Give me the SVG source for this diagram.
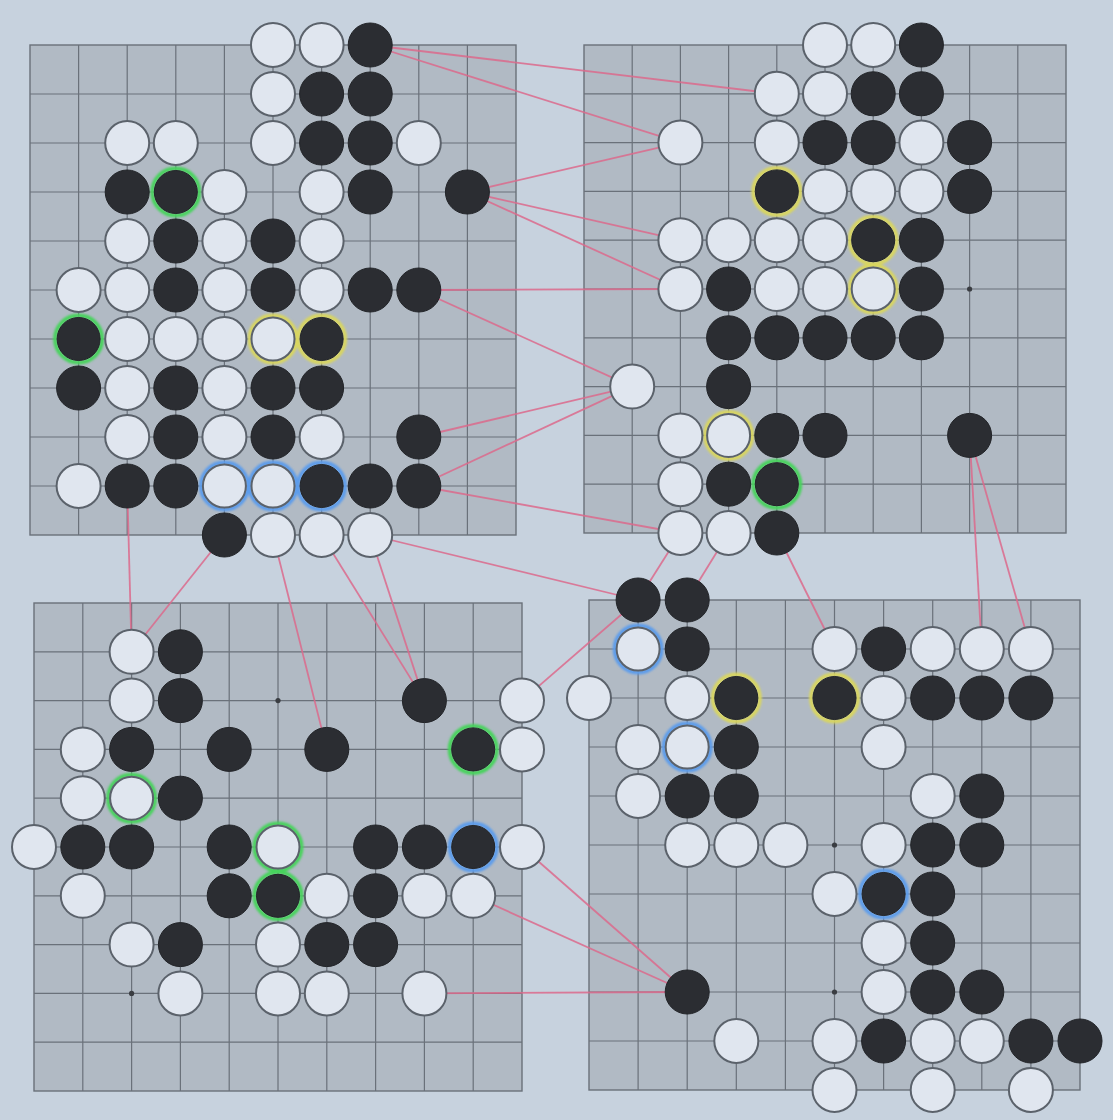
<svg xmlns="http://www.w3.org/2000/svg" width="1113" height="1120" viewBox="0 0 1113 1120">
<defs>
<style>
.bd{fill:#b1bac4;stroke:#6a717a;stroke-width:1.4}
.gl{fill:none;stroke:#6a717a;stroke-width:1.2}
.st{fill:#3a3d42}
.w{fill:#e0e6ef;stroke:#5b626b;stroke-width:2}
.b{fill:#2b2d32;stroke:#222428;stroke-width:1}
.rg{fill:none;stroke:#46d35c;stroke-width:4}
.ry{fill:none;stroke:#d9d65e;stroke-width:4}
.rb{fill:none;stroke:#5c9cec;stroke-width:4}
.cn{fill:none;stroke:#dc6a8c;stroke-width:1.8;stroke-opacity:0.85}
</style>
<filter id="glow" x="-30%" y="-30%" width="160%" height="160%"><feGaussianBlur stdDeviation="0.9"/></filter>
</defs>
<rect width="1113" height="1120" fill="#c7d2de"/>

<g id="board-tl">
<rect class="bd" x="30" y="45" width="486" height="490"/>
<path class="gl" d="M78.6 45V535M127.2 45V535M175.8 45V535M224.4 45V535M273 45V535M321.6 45V535M370.2 45V535M418.8 45V535M467.4 45V535M30 94H516M30 143H516M30 192H516M30 241H516M30 290H516M30 339H516M30 388H516M30 437H516M30 486H516"/>
</g>
<g id="board-tr">
<rect class="bd" x="584" y="45" width="482" height="488"/>
<path class="gl" d="M632.2 45V533M680.4 45V533M728.6 45V533M776.8 45V533M825 45V533M873.2 45V533M921.4 45V533M969.6 45V533M1017.8 45V533M584 93.8H1066M584 142.6H1066M584 191.4H1066M584 240.2H1066M584 289H1066M584 337.8H1066M584 386.6H1066M584 435.4H1066M584 484.2H1066"/>
<circle class="st" cx="969.6" cy="289" r="2.6"/>
</g>
<g id="board-bl">
<rect class="bd" x="34" y="603" width="488" height="488"/>
<path class="gl" d="M82.8 603V1091M131.6 603V1091M180.4 603V1091M229.2 603V1091M278 603V1091M326.8 603V1091M375.6 603V1091M424.4 603V1091M473.2 603V1091M34 651.8H522M34 700.6H522M34 749.4H522M34 798.2H522M34 847H522M34 895.8H522M34 944.6H522M34 993.4H522M34 1042.2H522"/>
<circle class="st" cx="278" cy="700.6" r="2.6"/>
<circle class="st" cx="131.6" cy="993.4" r="2.6"/>
</g>
<g id="board-br">
<rect class="bd" x="589" y="600" width="491" height="490"/>
<path class="gl" d="M638.1 600V1090M687.2 600V1090M736.3 600V1090M785.4 600V1090M834.5 600V1090M883.6 600V1090M932.7 600V1090M981.8 600V1090M1030.9 600V1090M589 649H1080M589 698H1080M589 747H1080M589 796H1080M589 845H1080M589 894H1080M589 943H1080M589 992H1080M589 1041H1080"/>
<circle class="st" cx="834.5" cy="845" r="2.6"/>
<circle class="st" cx="834.5" cy="992" r="2.6"/>
</g>

<g id="connectors">
<path class="cn" d="M370.2 45L776.8 93.8"/>
<path class="cn" d="M370.2 45L680.4 142.6"/>
<path class="cn" d="M467.4 192L680.4 142.6"/>
<path class="cn" d="M467.4 192L680.4 240.2"/>
<path class="cn" d="M467.4 192L680.4 289"/>
<path class="cn" d="M418.8 290L680.4 289"/>
<path class="cn" d="M418.8 290L632.2 386.6"/>
<path class="cn" d="M418.8 437L632.2 386.6"/>
<path class="cn" d="M418.8 486L632.2 386.6"/>
<path class="cn" d="M418.8 486L680.4 533"/>
<path class="cn" d="M370.2 535L638.1 600"/>
<path class="cn" d="M127.2 486L131.6 651.8"/>
<path class="cn" d="M224.4 535L131.6 651.8"/>
<path class="cn" d="M273 535L326.8 749.4"/>
<path class="cn" d="M321.6 535L424.4 700.6"/>
<path class="cn" d="M370.2 535L424.4 700.6"/>
<path class="cn" d="M522 700.6L638.1 600"/>
<path class="cn" d="M680.4 533L638.1 600"/>
<path class="cn" d="M728.6 533L687.2 600"/>
<path class="cn" d="M776.8 533L834.5 649"/>
<path class="cn" d="M969.6 435.4L981.8 649"/>
<path class="cn" d="M969.6 435.4L1030.9 649"/>
<path class="cn" d="M522 847L687.2 992"/>
<path class="cn" d="M473.2 895.8L687.2 992"/>
<path class="cn" d="M424.4 993.4L687.2 992"/>
</g>

<g id="stones-tl">
<g filter="url(#glow)">
<circle class="rg" cx="175.8" cy="192" r="23.5"/>
<circle class="rg" cx="78.6" cy="339" r="23.5"/>
<circle class="ry" cx="273" cy="339" r="23.5"/>
<circle class="ry" cx="321.6" cy="339" r="23.5"/>
<circle class="rb" cx="224.4" cy="486" r="23.5"/>
<circle class="rb" cx="273" cy="486" r="23.5"/>
<circle class="rb" cx="321.6" cy="486" r="23.5"/>
</g>
<circle class="w" cx="273" cy="45" r="22"/><circle class="w" cx="321.6" cy="45" r="22"/><circle id="tl-7-0" class="b" cx="370.2" cy="45" r="22"/>
<circle class="w" cx="273" cy="94" r="22"/><circle class="b" cx="321.6" cy="94" r="22"/><circle class="b" cx="370.2" cy="94" r="22"/>
<circle class="w" cx="127.2" cy="143" r="22"/><circle class="w" cx="175.8" cy="143" r="22"/><circle class="w" cx="273" cy="143" r="22"/><circle class="b" cx="321.6" cy="143" r="22"/><circle class="b" cx="370.2" cy="143" r="22"/><circle class="w" cx="418.8" cy="143" r="22"/>
<circle class="b" cx="127.2" cy="192" r="22"/><circle class="b" cx="175.8" cy="192" r="21.5"/><circle class="w" cx="224.4" cy="192" r="22"/><circle class="w" cx="321.6" cy="192" r="22"/><circle class="b" cx="370.2" cy="192" r="22"/><circle id="tl-9-3" class="b" cx="467.4" cy="192" r="22"/>
<circle class="w" cx="127.2" cy="241" r="22"/><circle class="b" cx="175.8" cy="241" r="22"/><circle class="w" cx="224.4" cy="241" r="22"/><circle class="b" cx="273" cy="241" r="22"/><circle class="w" cx="321.6" cy="241" r="22"/>
<circle class="w" cx="78.6" cy="290" r="22"/><circle class="w" cx="127.2" cy="290" r="22"/><circle class="b" cx="175.8" cy="290" r="22"/><circle class="w" cx="224.4" cy="290" r="22"/><circle class="b" cx="273" cy="290" r="22"/><circle class="w" cx="321.6" cy="290" r="22"/><circle class="b" cx="370.2" cy="290" r="22"/><circle id="tl-8-5" class="b" cx="418.8" cy="290" r="22"/>
<circle class="b" cx="78.6" cy="339" r="21.5"/><circle class="w" cx="127.2" cy="339" r="22"/><circle class="w" cx="175.8" cy="339" r="22"/><circle class="w" cx="224.4" cy="339" r="22"/><circle class="w" cx="273" cy="339" r="21.5"/><circle class="b" cx="321.6" cy="339" r="21.5"/>
<circle class="b" cx="78.6" cy="388" r="22"/><circle class="w" cx="127.2" cy="388" r="22"/><circle class="b" cx="175.8" cy="388" r="22"/><circle class="w" cx="224.4" cy="388" r="22"/><circle class="b" cx="273" cy="388" r="22"/><circle class="b" cx="321.6" cy="388" r="22"/>
<circle class="w" cx="127.2" cy="437" r="22"/><circle class="b" cx="175.8" cy="437" r="22"/><circle class="w" cx="224.4" cy="437" r="22"/><circle class="b" cx="273" cy="437" r="22"/><circle class="w" cx="321.6" cy="437" r="22"/><circle id="tl-8-8" class="b" cx="418.8" cy="437" r="22"/>
<circle class="w" cx="78.6" cy="486" r="22"/><circle id="tl-2-9" class="b" cx="127.2" cy="486" r="22"/><circle class="b" cx="175.8" cy="486" r="22"/><circle class="w" cx="224.4" cy="486" r="21.5"/><circle class="w" cx="273" cy="486" r="21.5"/><circle class="b" cx="321.6" cy="486" r="21.5"/><circle class="b" cx="370.2" cy="486" r="22"/><circle id="tl-8-9" class="b" cx="418.8" cy="486" r="22"/>
<circle id="tl-4-10" class="b" cx="224.4" cy="535" r="22"/><circle id="tl-5-10" class="w" cx="273" cy="535" r="22"/><circle id="tl-6-10" class="w" cx="321.6" cy="535" r="22"/><circle id="tl-7-10" class="w" cx="370.2" cy="535" r="22"/>
</g>

<g id="stones-tr">
<g filter="url(#glow)">
<circle class="ry" cx="776.8" cy="191.4" r="23.5"/>
<circle class="ry" cx="873.2" cy="240.2" r="23.5"/>
<circle class="ry" cx="873.2" cy="289" r="23.5"/>
<circle class="ry" cx="728.6" cy="435.4" r="23.5"/>
<circle class="rg" cx="776.8" cy="484.2" r="23.5"/>
</g>
<circle class="w" cx="825" cy="45" r="22"/><circle class="w" cx="873.2" cy="45" r="22"/><circle class="b" cx="921.4" cy="45" r="22"/>
<circle id="tr-4-1" class="w" cx="776.8" cy="93.8" r="22"/><circle class="w" cx="825" cy="93.8" r="22"/><circle class="b" cx="873.2" cy="93.8" r="22"/><circle class="b" cx="921.4" cy="93.8" r="22"/>
<circle id="tr-2-2" class="w" cx="680.4" cy="142.6" r="22"/><circle class="w" cx="776.8" cy="142.6" r="22"/><circle class="b" cx="825" cy="142.6" r="22"/><circle class="b" cx="873.2" cy="142.6" r="22"/><circle class="w" cx="921.4" cy="142.6" r="22"/><circle class="b" cx="969.6" cy="142.6" r="22"/>
<circle class="b" cx="776.8" cy="191.4" r="21.5"/><circle class="w" cx="825" cy="191.4" r="22"/><circle class="w" cx="873.2" cy="191.4" r="22"/><circle class="w" cx="921.4" cy="191.4" r="22"/><circle class="b" cx="969.6" cy="191.4" r="22"/>
<circle id="tr-2-4" class="w" cx="680.4" cy="240.2" r="22"/><circle class="w" cx="728.6" cy="240.2" r="22"/><circle class="w" cx="776.8" cy="240.2" r="22"/><circle class="w" cx="825" cy="240.2" r="22"/><circle class="b" cx="873.2" cy="240.2" r="21.5"/><circle class="b" cx="921.4" cy="240.2" r="22"/>
<circle id="tr-2-5" class="w" cx="680.4" cy="289" r="22"/><circle class="b" cx="728.6" cy="289" r="22"/><circle class="w" cx="776.8" cy="289" r="22"/><circle class="w" cx="825" cy="289" r="22"/><circle class="w" cx="873.2" cy="289" r="21.5"/><circle class="b" cx="921.4" cy="289" r="22"/>
<circle class="b" cx="728.6" cy="337.8" r="22"/><circle class="b" cx="776.8" cy="337.8" r="22"/><circle class="b" cx="825" cy="337.8" r="22"/><circle class="b" cx="873.2" cy="337.8" r="22"/><circle class="b" cx="921.4" cy="337.8" r="22"/>
<circle id="tr-1-7" class="w" cx="632.2" cy="386.6" r="22"/><circle class="b" cx="728.6" cy="386.6" r="22"/>
<circle class="w" cx="680.4" cy="435.4" r="22"/><circle class="w" cx="728.6" cy="435.4" r="21.5"/><circle class="b" cx="776.8" cy="435.4" r="22"/><circle class="b" cx="825" cy="435.4" r="22"/><circle id="tr-8-8" class="b" cx="969.6" cy="435.4" r="22"/>
<circle class="w" cx="680.4" cy="484.2" r="22"/><circle class="b" cx="728.6" cy="484.2" r="22"/><circle class="b" cx="776.8" cy="484.2" r="21.5"/>
<circle id="tr-2-10" class="w" cx="680.4" cy="533" r="22"/><circle id="tr-3-10" class="w" cx="728.6" cy="533" r="22"/><circle id="tr-4-10" class="b" cx="776.8" cy="533" r="22"/>
</g>

<g id="stones-bl">
<g filter="url(#glow)">
<circle class="rg" cx="473.2" cy="749.4" r="23.5"/>
<circle class="rg" cx="131.6" cy="798.2" r="23.5"/>
<circle class="rg" cx="278" cy="847" r="23.5"/>
<circle class="rb" cx="473.2" cy="847" r="23.5"/>
<circle class="rg" cx="278" cy="895.8" r="23.5"/>
</g>
<circle id="bl-2-1" class="w" cx="131.6" cy="651.8" r="22"/><circle class="b" cx="180.4" cy="651.8" r="22"/>
<circle class="w" cx="131.6" cy="700.6" r="22"/><circle class="b" cx="180.4" cy="700.6" r="22"/><circle id="bl-8-2" class="b" cx="424.4" cy="700.6" r="22"/><circle id="bl-10-2" class="w" cx="522" cy="700.6" r="22"/>
<circle class="w" cx="82.8" cy="749.4" r="22"/><circle class="b" cx="131.6" cy="749.4" r="22"/><circle class="b" cx="229.2" cy="749.4" r="22"/><circle id="bl-6-3" class="b" cx="326.8" cy="749.4" r="22"/><circle class="b" cx="473.2" cy="749.4" r="21.5"/><circle class="w" cx="522" cy="749.4" r="22"/>
<circle class="w" cx="82.8" cy="798.2" r="22"/><circle class="w" cx="131.6" cy="798.2" r="21.5"/><circle class="b" cx="180.4" cy="798.2" r="22"/>
<circle class="w" cx="34" cy="847" r="22"/><circle class="b" cx="82.8" cy="847" r="22"/><circle class="b" cx="131.6" cy="847" r="22"/><circle class="b" cx="229.2" cy="847" r="22"/><circle class="w" cx="278" cy="847" r="21.5"/><circle class="b" cx="375.6" cy="847" r="22"/><circle class="b" cx="424.4" cy="847" r="22"/><circle class="b" cx="473.2" cy="847" r="21.5"/><circle id="bl-10-5" class="w" cx="522" cy="847" r="22"/>
<circle class="w" cx="82.8" cy="895.8" r="22"/><circle class="b" cx="229.2" cy="895.8" r="22"/><circle class="b" cx="278" cy="895.8" r="21.5"/><circle class="w" cx="326.8" cy="895.8" r="22"/><circle class="b" cx="375.6" cy="895.8" r="22"/><circle class="w" cx="424.4" cy="895.8" r="22"/><circle id="bl-9-6" class="w" cx="473.2" cy="895.8" r="22"/>
<circle class="w" cx="131.6" cy="944.6" r="22"/><circle class="b" cx="180.4" cy="944.6" r="22"/><circle class="w" cx="278" cy="944.6" r="22"/><circle class="b" cx="326.8" cy="944.6" r="22"/><circle class="b" cx="375.6" cy="944.6" r="22"/>
<circle class="w" cx="180.4" cy="993.4" r="22"/><circle class="w" cx="278" cy="993.4" r="22"/><circle class="w" cx="326.8" cy="993.4" r="22"/><circle id="bl-8-8" class="w" cx="424.4" cy="993.4" r="22"/>
</g>

<g id="stones-br">
<g filter="url(#glow)">
<circle class="rb" cx="638.1" cy="649" r="23.5"/>
<circle class="ry" cx="736.3" cy="698" r="23.5"/>
<circle class="ry" cx="834.5" cy="698" r="23.5"/>
<circle class="rb" cx="687.2" cy="747" r="23.5"/>
<circle class="rb" cx="883.6" cy="894" r="23.5"/>
</g>
<circle id="br-1-0" class="b" cx="638.1" cy="600" r="22"/><circle id="br-2-0" class="b" cx="687.2" cy="600" r="22"/>
<circle class="w" cx="638.1" cy="649" r="21.5"/><circle class="b" cx="687.2" cy="649" r="22"/><circle id="br-5-1" class="w" cx="834.5" cy="649" r="22"/><circle class="b" cx="883.6" cy="649" r="22"/><circle class="w" cx="932.7" cy="649" r="22"/><circle id="br-8-1" class="w" cx="981.8" cy="649" r="22"/><circle id="br-9-1" class="w" cx="1030.9" cy="649" r="22"/>
<circle class="w" cx="589" cy="698" r="22"/><circle class="w" cx="687.2" cy="698" r="22"/><circle class="b" cx="736.3" cy="698" r="21.5"/><circle class="b" cx="834.5" cy="698" r="21.5"/><circle class="w" cx="883.6" cy="698" r="22"/><circle class="b" cx="932.7" cy="698" r="22"/><circle class="b" cx="981.8" cy="698" r="22"/><circle class="b" cx="1030.9" cy="698" r="22"/>
<circle class="w" cx="638.1" cy="747" r="22"/><circle class="w" cx="687.2" cy="747" r="21.5"/><circle class="b" cx="736.3" cy="747" r="22"/><circle class="w" cx="883.6" cy="747" r="22"/>
<circle class="w" cx="638.1" cy="796" r="22"/><circle class="b" cx="687.2" cy="796" r="22"/><circle class="b" cx="736.3" cy="796" r="22"/><circle class="w" cx="932.7" cy="796" r="22"/><circle class="b" cx="981.8" cy="796" r="22"/>
<circle class="w" cx="687.2" cy="845" r="22"/><circle class="w" cx="736.3" cy="845" r="22"/><circle class="w" cx="785.4" cy="845" r="22"/><circle class="w" cx="883.6" cy="845" r="22"/><circle class="b" cx="932.7" cy="845" r="22"/><circle class="b" cx="981.8" cy="845" r="22"/>
<circle class="w" cx="834.5" cy="894" r="22"/><circle class="b" cx="883.6" cy="894" r="21.5"/><circle class="b" cx="932.7" cy="894" r="22"/>
<circle class="w" cx="883.6" cy="943" r="22"/><circle class="b" cx="932.7" cy="943" r="22"/>
<circle id="br-2-8" class="b" cx="687.2" cy="992" r="22"/><circle class="w" cx="883.6" cy="992" r="22"/><circle class="b" cx="932.7" cy="992" r="22"/><circle class="b" cx="981.8" cy="992" r="22"/>
<circle class="w" cx="736.3" cy="1041" r="22"/><circle class="w" cx="834.5" cy="1041" r="22"/><circle class="b" cx="883.6" cy="1041" r="22"/><circle class="w" cx="932.7" cy="1041" r="22"/><circle class="w" cx="981.8" cy="1041" r="22"/><circle class="b" cx="1030.9" cy="1041" r="22"/><circle class="b" cx="1080" cy="1041" r="22"/>
<circle class="w" cx="834.5" cy="1090" r="22"/><circle class="w" cx="932.7" cy="1090" r="22"/><circle class="w" cx="1030.9" cy="1090" r="22"/>
</g>
</svg>
